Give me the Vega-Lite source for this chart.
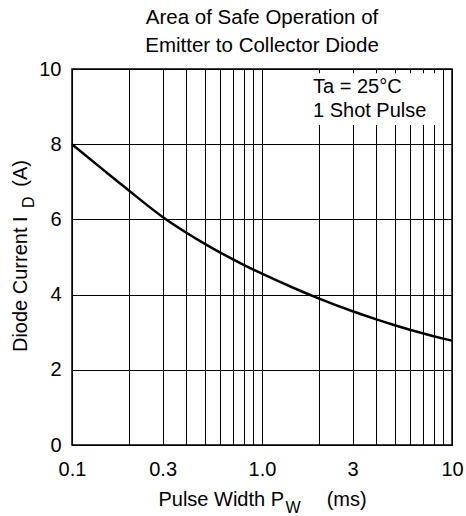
{
  "$schema": "https://vega.github.io/schema/vega-lite/v6.json",
  "width": 380,
  "height": 376,
  "autosize": {"type": "none"},
  "padding": {"left": 72, "top": 69, "right": 14, "bottom": 71},
  "background": "white",
  "title": {
    "text": ["Area of Safe Operation of", "Emitter to Collector Diode"],
    "fontSize": 20.5,
    "font": "Liberation Sans",
    "fontWeight": "normal",
    "color": "black",
    "anchor": "middle",
    "lineHeight": 28,
    "offset": 3
  },
  "config": {
    "view": {"stroke": "black", "strokeWidth": 1.5},
    "font": "Liberation Sans",
    "text": {"font": "Liberation Sans", "color": "black", "fontWeight": "normal"}
  },
  "layer": [
    {
      "data": {
        "values": [
          {"pw": 0.1, "id": 8.0},
          {"pw": 0.15, "id": 7.27},
          {"pw": 0.2, "id": 6.76},
          {"pw": 0.3, "id": 6.065},
          {"pw": 0.4, "id": 5.646},
          {"pw": 0.5, "id": 5.35},
          {"pw": 0.6, "id": 5.124},
          {"pw": 0.7, "id": 4.943},
          {"pw": 0.8, "id": 4.793},
          {"pw": 0.9, "id": 4.666},
          {"pw": 1.0, "id": 4.556},
          {"pw": 1.5, "id": 4.156},
          {"pw": 2, "id": 3.894},
          {"pw": 3, "id": 3.556},
          {"pw": 4, "id": 3.341},
          {"pw": 5, "id": 3.186},
          {"pw": 6, "id": 3.067},
          {"pw": 7, "id": 2.972},
          {"pw": 8, "id": 2.894},
          {"pw": 9, "id": 2.83},
          {"pw": 10, "id": 2.776}
        ]
      },
      "mark": {"type": "line", "color": "black", "strokeWidth": 2.5, "interpolate": "monotone"},
      "encoding": {
        "x": {
          "field": "pw",
          "type": "quantitative",
          "scale": {"type": "log", "domain": [0.1, 10], "nice": false},
          "axis": {
            "title": null,
            "values": [0.1, 0.2, 0.3, 0.4, 0.5, 0.6, 0.7, 0.8, 0.9, 1, 2, 3, 4, 5, 6, 7, 8, 9, 10],
            "labelExpr": "datum.value == 0.1 ? '0.1' : datum.value == 0.3 ? '0.3' : datum.value == 1 ? '1.0' : datum.value == 3 ? '3' : datum.value == 10 ? '10' : ''",
            "grid": true,
            "gridColor": "black",
            "gridWidth": 1,
            "gridOpacity": 1,
            "ticks": false,
            "domain": false,
            "labelFont": "Liberation Sans",
            "labelFontSize": 20,
            "labelColor": "black",
            "labelPadding": 14,
            "labelFlush": false,
            "labelOverlap": false,
            "labelBound": false
          }
        },
        "y": {
          "field": "id",
          "type": "quantitative",
          "scale": {"domain": [0, 10], "nice": false, "zero": false},
          "axis": {
            "title": null,
            "values": [0, 1, 2, 3, 4, 5, 6, 7, 8, 9, 10],
            "labelExpr": "datum.value % 2 == 0 ? datum.label : ''",
            "grid": true,
            "gridColor": "black",
            "gridWidth": 1,
            "gridOpacity": 1,
            "ticks": false,
            "domain": false,
            "labelFont": "Liberation Sans",
            "labelFontSize": 20,
            "labelColor": "black",
            "labelPadding": 11,
            "labelFlush": false,
            "labelOverlap": false,
            "labelBound": false
          }
        }
      }
    },
    {
      "data": {"values": [{}]},
      "mark": {"type": "rect", "fill": "white", "stroke": null},
      "encoding": {
        "x": {"datum": 1.79},
        "x2": {"datum": 8.44},
        "y": {"datum": 9.89},
        "y2": {"datum": 8.51}
      }
    },
    {
      "data": {"values": [{}]},
      "mark": {"type": "text", "text": "Ta = 25°C", "fontSize": 20, "fontWeight": "normal", "align": "left", "baseline": "alphabetic"},
      "encoding": {"x": {"datum": 1.855}, "y": {"datum": 9.35}}
    },
    {
      "data": {"values": [{}]},
      "mark": {"type": "text", "text": "1 Shot Pulse", "fontSize": 20, "fontWeight": "normal", "align": "left", "baseline": "alphabetic"},
      "encoding": {"x": {"datum": 1.855}, "y": {"datum": 8.73}}
    },
    {
      "data": {"values": [{}]},
      "mark": {"type": "text", "text": "Pulse Width  P", "fontSize": 20, "fontWeight": "normal", "align": "right", "baseline": "alphabetic"},
      "encoding": {"x": {"datum": 1.306}, "y": {"datum": -1.62}}
    },
    {
      "data": {"values": [{}]},
      "mark": {"type": "text", "text": "W", "fontSize": 16, "fontWeight": "normal", "align": "left", "baseline": "alphabetic"},
      "encoding": {"x": {"datum": 1.33}, "y": {"datum": -1.81}}
    },
    {
      "data": {"values": [{}]},
      "mark": {"type": "text", "text": "(ms)", "fontSize": 20, "fontWeight": "normal", "align": "left", "baseline": "alphabetic"},
      "encoding": {"x": {"datum": 2.19}, "y": {"datum": -1.62}}
    },
    {
      "data": {"values": [{}]},
      "mark": {"type": "text", "text": "Diode Current  I", "fontSize": 20, "fontWeight": "normal", "angle": 270, "align": "right", "baseline": "alphabetic"},
      "encoding": {"x": {"datum": 0.058}, "y": {"datum": 6.08}}
    },
    {
      "data": {"values": [{}]},
      "mark": {"type": "text", "text": "D", "fontSize": 16, "fontWeight": "normal", "angle": 270, "align": "left", "baseline": "alphabetic"},
      "encoding": {"x": {"datum": 0.0631}, "y": {"datum": 6.3}}
    },
    {
      "data": {"values": [{}]},
      "mark": {"type": "text", "text": "(A)", "fontSize": 20, "fontWeight": "normal", "angle": 270, "align": "left", "baseline": "alphabetic"},
      "encoding": {"x": {"datum": 0.058}, "y": {"datum": 6.87}}
    }
  ]
}
